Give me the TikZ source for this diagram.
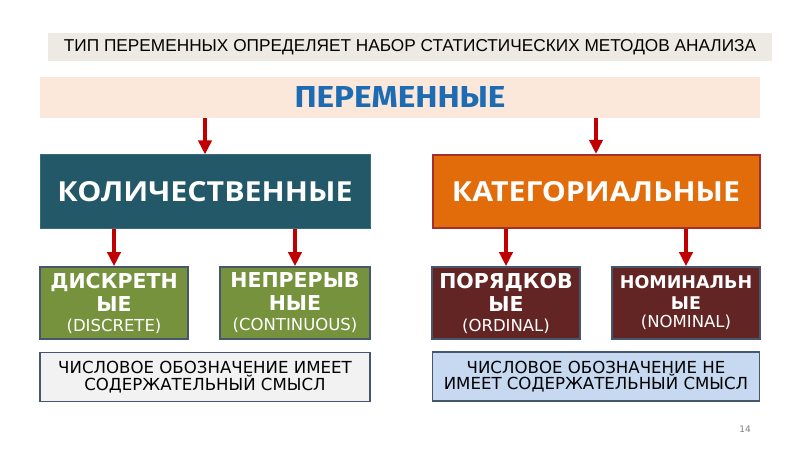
\documentclass[tikz,border=0pt]{standalone}
\usepackage{fontspec}
\setmainfont{DejaVu Sans}
\newfontfamily\openb{Open Sans}
\newfontfamily\libs{Liberation Sans}
\newfontfamily\fira{Fira Sans}
\usetikzlibrary{arrows.meta}
\definecolor{bangray}{HTML}{ECEAE3}
\definecolor{peach}{HTML}{FBE8DB}
\definecolor{titleblue}{HTML}{1C6BB3}
\definecolor{teal}{HTML}{235868}
\definecolor{tealedge}{HTML}{3A6B7C}
\definecolor{orangefill}{HTML}{E36C0A}
\definecolor{orangeedge}{HTML}{A3302A}
\definecolor{greenfill}{HTML}{76923C}
\definecolor{brownfill}{HTML}{632523}
\definecolor{boxedge}{HTML}{45566E}
\definecolor{lightgray}{HTML}{F2F2F2}
\definecolor{lightblue}{HTML}{C6D9F1}
\definecolor{arrowred}{HTML}{C00000}
\newcommand{\headf}{\fontsize{20.5}{23}\selectfont\bfseries}
\newcommand{\smallheadf}{\fontsize{17.5}{21}\selectfont\bfseries}
\newcommand{\subf}{\fontsize{16.5}{23}\selectfont\mdseries}
\begin{document}
\begin{tikzpicture}[x=1pt,y=-1pt,
  box/.style={rectangle,inner sep=0pt,align=center},
  bigbox/.style={box,minimum height=73pt,text=white},
  smallbox/.style={box,minimum width=148pt,minimum height=72pt,draw=boxedge,line width=1.6pt,text=white,font=\headf},
  notebox/.style={box,minimum height=49pt,draw=boxedge,line width=1.6pt,font=\fontsize{16.6}{15.5}\selectfont},
  arr/.style={arrowred,line width=3.6pt,-{Triangle[width=13pt,length=14pt]}}
]
\useasboundingbox (0,0) rectangle (800,449);
\fill[white] (0,0) rectangle (800,449);

\node[box,fill=bangray,minimum width=724pt,minimum height=28pt] (ban) at (410,47)
  {\resizebox{692pt}{12pt}{\libs ТИП ПЕРЕМЕННЫХ ОПРЕДЕЛЯЕТ НАБОР СТАТИСТИЧЕСКИХ МЕТОДОВ АНАЛИЗА}};
\node[box,fill=peach,minimum width=720pt,minimum height=41pt] (band) at (400,97.5)
  {\color{titleblue}\resizebox{211pt}{21pt}{\fira\bfseries ПЕРЕМЕННЫЕ}};

\node[bigbox,fill=teal,draw=tealedge,line width=1pt,minimum width=330pt] (kol) at (205,191.5)
  {\resizebox{295pt}{20pt}{\openb\bfseries КОЛИЧЕСТВЕННЫЕ}};
\node[bigbox,fill=orangefill,draw=orangeedge,line width=2pt,minimum width=327pt] (kat) at (596,191.5)
  {\resizebox{288pt}{20pt}{\openb\bfseries КАТЕГОРИАЛЬНЫЕ}};

\node[smallbox,fill=greenfill] (dis) at (114,303)
  {ДИСКРЕТН\\ЫЕ\\[-3pt]\subf (DISCRETE)};
\node[smallbox,fill=greenfill,minimum width=150pt] (nep) at (295,303)
  {НЕПРЕРЫВ\\НЫЕ\\[-3pt]\subf (CONTINUOUS)};
\node[smallbox,fill=brownfill] (por) at (506,303)
  {ПОРЯДКОВ\\ЫЕ\\[-3pt]\subf (ORDINAL)};
\node[smallbox,fill=brownfill,font=\smallheadf] (nom) at (686,303)
  {НОМИНАЛЬН\\ЫЕ\\[-3pt]\subf (NOMINAL)};

\node[notebox,fill=lightgray,minimum width=330pt] (tl) at (205,377)
  {ЧИСЛОВОЕ ОБОЗНАЧЕНИЕ ИМЕЕТ\\СОДЕРЖАТЕЛЬНЫЙ СМЫСЛ};
\node[notebox,fill=lightblue,minimum width=327pt] (tr) at (596,376.5)
  {ЧИСЛОВОЕ ОБОЗНАЧЕНИЕ НЕ\\ИМЕЕТ СОДЕРЖАТЕЛЬНЫЙ СМЫСЛ};

\node[text=gray,font=\fontsize{9}{10}\selectfont] (pg) at (745,429) {14};

\draw[arr] (band.south -| kol.north) -- (kol.north);
\draw[arr] (band.south -| kat.north) -- (kat.north);
\draw[arr] (kol.south -| dis.north) -- (dis.north);
\draw[arr] (kol.south -| nep.north) -- (nep.north);
\draw[arr] (kat.south -| por.north) -- (por.north);
\draw[arr] (kat.south -| nom.north) -- (nom.north);
\end{tikzpicture}
\end{document}
